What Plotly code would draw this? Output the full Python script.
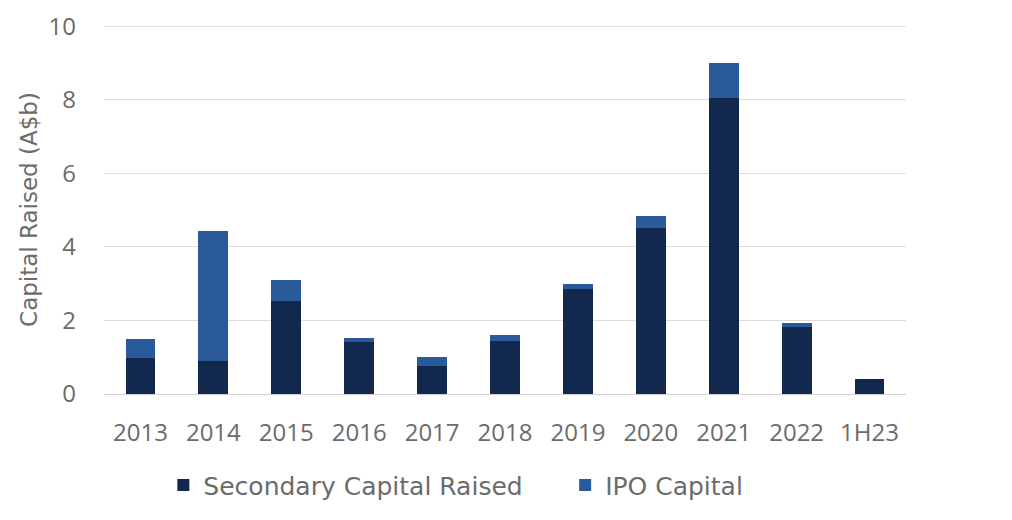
import plotly.graph_objects as go

categories = ["2013", "2014", "2015", "2016", "2017", "2018", "2019", "2020", "2021", "2022", "1H23"]
secondary = [0.98, 0.90, 2.52, 1.41, 0.76, 1.44, 2.85, 4.51, 8.04, 1.82, 0.40]
ipo = [0.51, 3.54, 0.57, 0.11, 0.24, 0.16, 0.15, 0.32, 0.95, 0.11, 0.0]
y_ticks = [0, 2, 4, 6, 8, 10]

TICK_FONT = "Open Sans"
TEXT_FONT = "DejaVu Sans"
GREY = "#6b6b6b"

fig = go.Figure()
fig.add_trace(go.Bar(x=categories, y=secondary, name="Secondary Capital Raised",
                     marker=dict(color="#12284c", line=dict(width=0)),
                     showlegend=True, legend="legend"))
fig.add_trace(go.Bar(x=categories, y=ipo, name="IPO Capital",
                     marker=dict(color="#2b5a9b", line=dict(width=0)),
                     showlegend=True, legend="legend2"))

legend_common = dict(orientation="h", xanchor="left", y=-0.185, yanchor="top",
                     font=dict(family=TEXT_FONT, size=25, color=GREY), itemwidth=30,
                     bgcolor="rgba(0,0,0,0)", visible=True)

fig.update_layout(
    showlegend=True,
    barmode="stack",
    bargap=0.59,
    width=1004, height=512,
    margin=dict(l=96, r=106, t=17, b=126, autoexpand=False),
    plot_bgcolor="white", paper_bgcolor="white",
    font=dict(family=TICK_FONT, color=GREY, size=24),
    legend=dict(x=0.074, **legend_common),
    legend2=dict(x=0.575, **legend_common),
    xaxis=dict(showgrid=False, showline=False, ticks="", ticklabelstandoff=22,
               tickfont=dict(family=TICK_FONT, size=24, color=GREY)),
    yaxis=dict(range=[0, 10.03], tickvals=y_ticks, showgrid=True, gridcolor="#dcdcdc", gridwidth=1.2,
               zeroline=True, zerolinecolor="#d0d0d0", zerolinewidth=1.2,
               tickfont=dict(family=TICK_FONT, size=24, color=GREY), ticklabelstandoff=27,
               title=dict(text="Capital Raised (A$b)",
                          font=dict(family=TEXT_FONT, size=23, color=GREY), standoff=4)),
)

fig.write_html("out.html")
